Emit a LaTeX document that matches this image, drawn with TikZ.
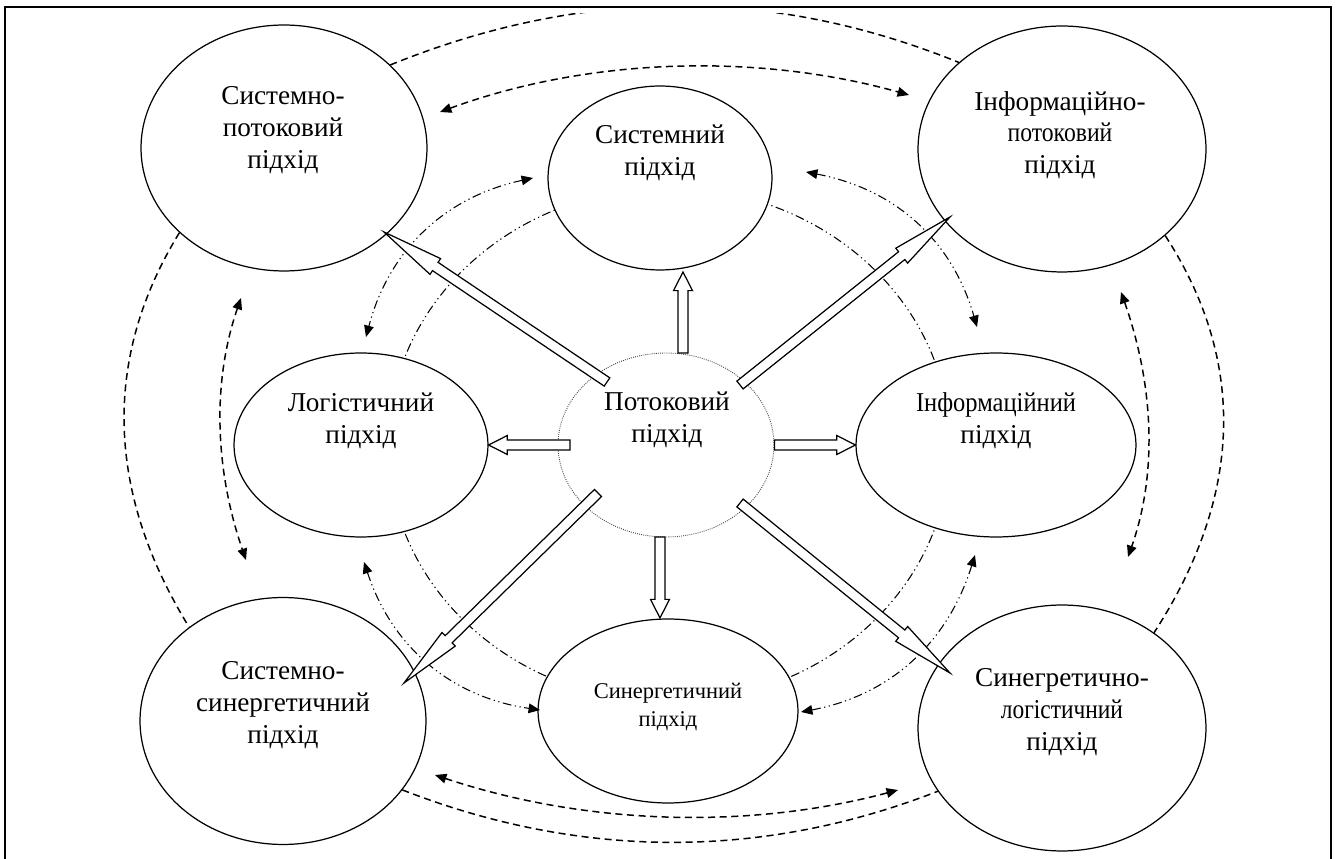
\documentclass[tikz,border=0pt]{standalone}
\usepackage{fontspec}
\usepackage{graphicx}
\setmainfont{Liberation Serif}
\usetikzlibrary{shapes.geometric,arrows.meta,calc,backgrounds}

\newcommand{\shaftw}{0.1cm}
\newcommand{\headw}{0.19cm}
\newcommand{\narrow}[2]{\scalebox{#1}[1]{#2}}
% hollow block arrow from #1 to #2
\newcommand{\blockarrow}[2]{%
  \coordinate (ba-s) at (#1);
  \coordinate (ba-e) at (#2);
  \coordinate (ba-h) at ($(ba-e)!0.23!(ba-s)$);
  \draw[hollow]
    ($(ba-s)!\shaftw!90:(ba-e)$) -- ($(ba-h)!\shaftw!90:(ba-e)$)
    -- ($(ba-h)!\headw!90:(ba-e)$) -- (ba-e)
    -- ($(ba-h)!\headw!-90:(ba-e)$) -- ($(ba-h)!\shaftw!-90:(ba-e)$)
    -- ($(ba-s)!\shaftw!-90:(ba-e)$) -- cycle;
}

\begin{document}
\begin{tikzpicture}[
    x=0.02cm, y=0.02cm,
    approach/.style={ellipse, draw, fill=white, line width=0.7pt, inner sep=0pt},
    core/.style={ellipse, draw=black!75, fill=white, line width=0.5pt, dash pattern=on 0.5pt off 0.7pt, inner sep=0pt},
    txt/.style={align=center, inner sep=0pt, font=\fontsize{15.5}{18}\selectfont},
    hollow/.style={draw, fill=white, line width=0.7pt, line join=miter},
    link/.style={line width=0.85pt, dash pattern=on 4pt off 2.6pt},
    dlink/.style={line width=0.6pt, dash pattern=on 5pt off 2pt on 0.7pt off 2pt on 0.7pt off 2pt},
    twoway/.style={{Triangle[length=6.5pt,width=5.5pt]}-{Triangle[length=6.5pt,width=5.5pt]}}
]
\useasboundingbox (0,0) rectangle (1336,859);
\draw[line width=1.3pt] (5,0) -- (5,852) -- (1331,852) -- (1331,0);

% approaches
\node[approach, minimum width=5.72cm, minimum height=4.92cm] (sysflow) at (284,711) {};
\node[approach, minimum width=4.48cm, minimum height=3.68cm] (sys) at (660,681) {};
\node[approach, minimum width=5.76cm, minimum height=4.92cm] (infoflow) at (1062,710) {};
\node[approach, minimum width=5.08cm, minimum height=3.68cm] (logist) at (361,414) {};
\node[core, minimum width=4.32cm, minimum height=3.68cm] (flow) at (666,414) {};
\node[approach, minimum width=5.6cm, minimum height=3.68cm] (info) at (996,414) {};
\node[approach, minimum width=5.72cm, minimum height=4.94cm] (syssyn) at (283,138) {};
\node[approach, minimum width=5.2cm, minimum height=3.68cm] (syn) at (668,148) {};
\node[approach, minimum width=5.76cm, minimum height=4.92cm] (synlog) at (1062,131) {};

% free ends of the two-way links
\coordinate (top-a) at (440,747);
\coordinate (top-b) at (909,764);
\coordinate (left-a) at (241,561);
\coordinate (left-b) at (246,299);
\coordinate (right-a) at (1121,567);
\coordinate (right-b) at (1128,302);
\coordinate (bot-a) at (435,84);
\coordinate (bot-b) at (898,69);
\coordinate (tl-a) at (533,681);
\coordinate (tl-b) at (366,522);
\coordinate (tr-a) at (806,687);
\coordinate (tr-b) at (977,532);
\coordinate (bl-a) at (364,297);
\coordinate (bl-b) at (540,149);
\coordinate (br-a) at (975,304);
\coordinate (br-b) at (801,147);

\begin{scope}[on background layer]
  \draw[dlink] ($(flow)+(3,0)$) ellipse[x radius=281, y radius=257];
  \begin{scope}
    \clip (0,0) rectangle (1336,845);
    \draw[link] (sysflow.38.5) .. controls +(190,77) and +(-190,77) .. (infoflow.140.7);
  \end{scope}
  \draw[link] (sysflow.219.5) .. controls +(-80,-130) and +(-80,130) .. (syssyn.135.6);
  \draw[link] (infoflow.-40) .. controls +(85,-131) and +(85,131) .. (synlog.46.2);
  \draw[link] (syssyn.-30) .. controls +(177,-69) and +(-177,-69) .. (synlog.207.5);
\end{scope}

% two-way links
\draw[link, twoway] (top-a) .. controls +(150,55) and +(-150,42) .. (top-b);
\draw[link, twoway] (left-a) .. controls +(-30,-87) and +(-30,87) .. (left-b);
\draw[link, twoway] (right-a) .. controls +(31,-88) and +(31,88) .. (right-b);
\draw[link, twoway] (bot-a) .. controls +(150,-50) and +(-150,-40) .. (bot-b);
\draw[dlink, twoway] (tl-a) .. controls +(-88,-19) and +(23,87) .. (tl-b);
\draw[dlink, twoway] (tr-a) .. controls +(89,-17) and +(-25,87) .. (tr-b);
\draw[dlink, twoway] (bl-a) .. controls +(28,-85) and +(-89,13) .. (bl-b);
\draw[dlink, twoway] (br-a) .. controls +(-27,-87) and +(90,17) .. (br-b);

% block arrows out of the core
\blockarrow{[shift={(17,92)}]flow.center}{[shift={(23,-94)}]sys.center}
\blockarrow{[shift={(-6,-92)}]flow.center}{[shift={(-8,93)}]syn.center}
\blockarrow{[shift={(-96,0)}]flow.center}{logist.east}
\blockarrow{flow.east}{info.west}
\blockarrow{[shift={(-59,63)}]flow.center}{[shift={(100,-84)}]sysflow.center}
\blockarrow{[shift={(74,60)}]flow.center}{[shift={(-112,-68)}]infoflow.center}
\blockarrow{[shift={(-68,-48)}]flow.center}{[shift={(121,38)}]syssyn.center}
\blockarrow{[shift={(74,-58)}]flow.center}{[shift={(-112,55)}]synlog.center}

% texts
\node[txt] (sysflow-t) at (283,729) {Системно-\\потоковий\\підхід};
\node[txt] (sys-t) at (660,706) {Системний\\підхід};
\node[txt] (infoflow-t) at (1060,724) {Інформаційно-\\\narrow{0.87}{потоковий}\\підхід};
\node[txt] (logist-t) at (361,438) {Логістичний\\підхід};
\node[txt] (flow-t) at (667,439) {Потоковий\\підхід};
\node[txt] (info-t) at (996,438) {\narrow{0.9}{Інформаційний}\\підхід};
\node[txt] (syssyn-t) at (283,154) {Системно-\\синергетичний\\підхід};
\node[txt, font=\fontsize{12.8}{15.5}\selectfont] (syn-t) at (668,152) {Синергетичний\\підхід};
\node[txt] (synlog-t) at (1062,147) {Синегретично-\\\narrow{0.86}{логістичний}\\підхід};
\end{tikzpicture}
\end{document}
